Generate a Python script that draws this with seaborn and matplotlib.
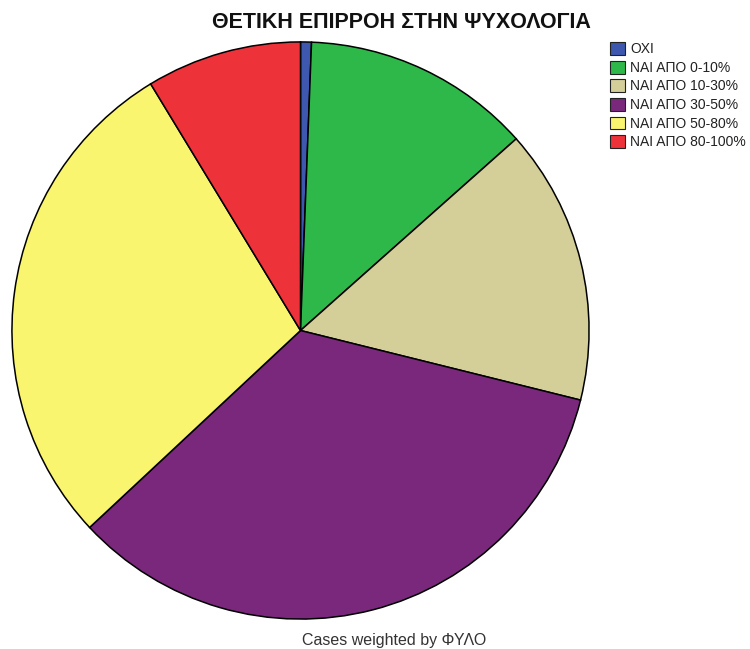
import matplotlib
matplotlib.use("Agg")
import matplotlib.pyplot as plt
import seaborn as sns

# Share of respondents (%) per answer
categories = ["ΟΧΙ", "ΝΑΙ ΑΠΟ 0-10%", "ΝΑΙ ΑΠΟ 10-30%", "ΝΑΙ ΑΠΟ 30-50%",
              "ΝΑΙ ΑΠΟ 50-80%", "ΝΑΙ ΑΠΟ 80-100%"]
shares = [0.61, 12.83, 15.44, 34.17, 28.27, 8.69]
slice_colors = ["#3D58AE", "#2EB84A", "#D4CE99", "#79287B", "#F9F56F", "#EE3239"]

title_text = "ΘΕΤΙΚΗ ΕΠΙΡΡΟΗ ΣΤΗΝ ΨΥΧΟΛΟΓΙΑ"
footer_text = "Cases weighted by ΦΥΛΟ"

sns.set_theme(style="white")
plt.rcParams["font.family"] = ["Liberation Sans", "DejaVu Sans"]

palette = sns.color_palette(slice_colors)

fig = plt.figure(figsize=(7.5, 6.49), dpi=100)
fig.patch.set_facecolor("white")
ax = fig.add_axes([10.5 / 750, 28.5 / 649, 580 / 750, 580 / 649])

wedges, _ = ax.pie(shares, colors=palette, startangle=90, counterclock=False,
                   radius=1.0,
                   wedgeprops=dict(edgecolor="black", linewidth=1.1))
ax.set_xlim(-1.005, 1.005)
ax.set_ylim(-1.005, 1.005)
ax.set_aspect("equal")
ax.axis("off")

fig.text(401 / 750, 1 - 22 / 649, title_text, ha="center", va="center",
         fontsize=15.5, fontweight="bold", color="#111111")
fig.text(394 / 750, 1 - 640 / 649, footer_text, ha="center", va="center",
         fontsize=11.5, color="#333333")

leg = fig.legend(wedges, categories, loc="upper left",
                 bbox_to_anchor=(610 / 750, 1 - 42 / 649),
                 frameon=False, fontsize=10, handlelength=1.05, handleheight=1.05,
                 handletextpad=0.4, labelspacing=0.32, borderpad=0.0,
                 borderaxespad=0.0)
for h in leg.legend_handles:
    h.set_linewidth(0.8)
    h.set_edgecolor("#222222")
for t in leg.get_texts():
    t.set_color("#222222")

fig.savefig("out.png", dpi=100, facecolor="white")
